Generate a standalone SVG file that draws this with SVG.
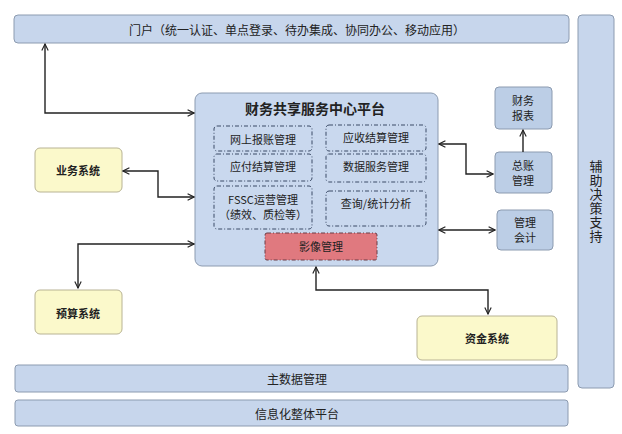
<svg xmlns="http://www.w3.org/2000/svg" width="622" height="434" viewBox="0 0 622 434">
<defs>
<marker id="ah" viewBox="0 0 10 10" refX="9" refY="5" markerWidth="8" markerHeight="8" orient="auto-start-reverse" markerUnits="userSpaceOnUse">
<path d="M1,1 L9,5 L1,9" fill="none" stroke="#222" stroke-width="1.4"/>
</marker>
<style>
text{font-family:"Noto Sans CJK SC","Noto Sans",sans-serif;fill:#222;text-anchor:middle;dominant-baseline:central}
.bar{fill:#c7d6ec;stroke:#8c9bb0;stroke-width:1}
.main{fill:#c9d8ee;stroke:#8c9bb0;stroke-width:1}
.blue{fill:#bccee6;stroke:#8c9bb0;stroke-width:1}
.yel{fill:#fbf9cb;stroke:#b8b394;stroke-width:1}
.dash{fill:none;stroke:#3a4a66;stroke-width:1;stroke-dasharray:4,2,1,2}
.red{fill:#e0797f;stroke:#6b3c46;stroke-width:1;stroke-dasharray:4,2,1,2}
.c{fill:none;stroke:#222;stroke-width:1.4;marker-end:url(#ah)}
.cb{fill:none;stroke:#222;stroke-width:1.4;marker-start:url(#ah);marker-end:url(#ah)}
.t11{font-size:11px}
.t12{font-size:12px}
.yb{font-size:11px;font-weight:bold}
</style>
</defs>
<rect width="622" height="434" fill="#ffffff"/>
<g id="portal"><rect class="bar" x="14" y="15" width="555" height="28" rx="4"/><text class="t12" x="297" y="29">门户（统一认证、单点登录、待办集成、协同办公、移动应用）</text></g>
<g id="decision"><rect class="bar" x="578" y="15" width="36" height="373" rx="4"/><text font-size="13" x="596" y="202" writing-mode="vertical-rl" letter-spacing="1">辅助决策支持</text></g>
<g id="fssc"><rect class="main" x="195" y="93" width="243" height="173" rx="7"/><text x="315" y="108" font-size="14" font-weight="bold">财务共享服务中心平台</text></g>
<g id="m1"><rect class="dash" x="214" y="126" width="98" height="25" rx="3"/><text class="t11" x="263" y="138.5">网上报账管理</text></g>
<g id="m2"><rect class="dash" x="326" y="125" width="100" height="26" rx="3"/><text class="t11" x="376" y="137">应收结算管理</text></g>
<g id="m3"><rect class="dash" x="214" y="154" width="98" height="27" rx="3"/><text class="t11" x="263" y="166">应付结算管理</text></g>
<g id="m4"><rect class="dash" x="326" y="154" width="100" height="28" rx="3"/><text class="t11" x="376" y="166">数据服务管理</text></g>
<g id="m5"><rect class="dash" x="214" y="186" width="98" height="43" rx="3"/><text class="t11" x="263" y="199">FSSC运营管理</text><text class="t11" x="263" y="214">（绩效、质检等）</text></g>
<g id="m6"><rect class="dash" x="326" y="191" width="100" height="35" rx="3"/><text class="t11" x="376" y="203">查询/统计分析</text></g>
<g id="image"><rect class="red" x="265" y="233" width="112" height="27" rx="2"/><text class="t11" x="321" y="246">影像管理</text></g>
<g id="report"><rect class="blue" x="495" y="87" width="57" height="42" rx="4"/><text class="t11" x="523" y="100">财务</text><text class="t11" x="523" y="115">报表</text></g>
<g id="ledger"><rect class="blue" x="495" y="152" width="57" height="41" rx="4"/><text class="t11" x="523" y="165">总账</text><text class="t11" x="523" y="180">管理</text></g>
<g id="mgmt"><rect class="blue" x="497" y="210" width="56" height="40" rx="4"/><text class="t11" x="525" y="222">管理</text><text class="t11" x="525" y="237">会计</text></g>
<g id="biz"><rect class="yel" x="35" y="148" width="87" height="44" rx="5"/><text class="yb" x="78" y="170">业务系统</text></g>
<g id="budget"><rect class="yel" x="35" y="290" width="87" height="44" rx="5"/><text class="yb" x="78" y="313">预算系统</text></g>
<g id="fund"><rect class="yel" x="417" y="316" width="140" height="44" rx="5"/><text class="yb" x="487" y="338">资金系统</text></g>
<g id="mdm"><rect class="bar" x="15" y="365" width="553" height="27" rx="3"/><text class="t12" x="297" y="378">主数据管理</text></g>
<g id="infra"><rect class="bar" x="15" y="400" width="553" height="26" rx="3"/><text class="t12" x="297" y="413">信息化整体平台</text></g>
<g id="connectors">
<path class="cb" d="M45,44 V113 H194"/>
<path class="cb" d="M123,171 H158 V197 H194"/>
<path class="cb" d="M194,244 H78 V288"/>
<path class="cb" d="M316,267 V290 H488 V314"/>
<path class="cb" d="M439,144 H466 V174 H493"/>
<path class="c" d="M523,152 V130"/>
<path class="cb" d="M439,230 H495"/>
</g>
</svg>
